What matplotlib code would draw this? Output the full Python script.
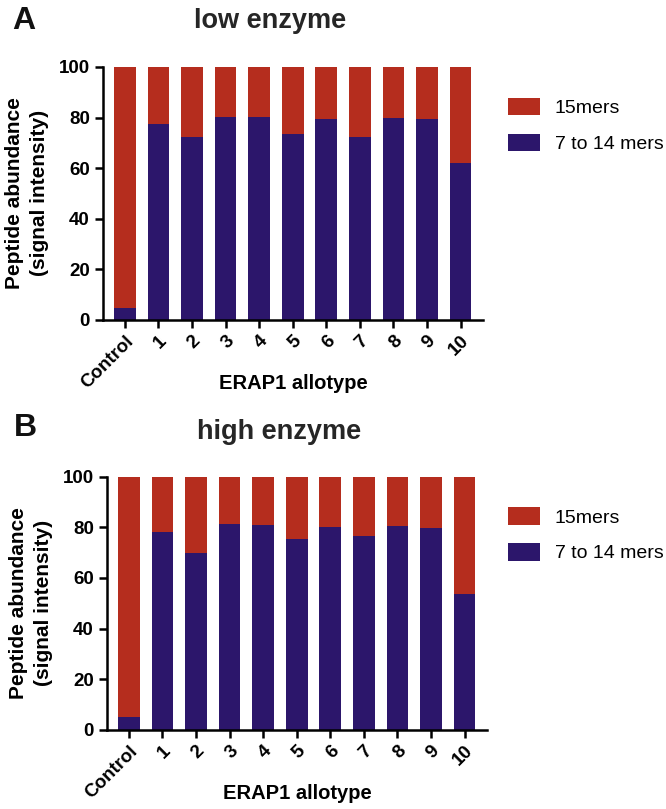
import numpy as np
import matplotlib
matplotlib.use("Agg")
import matplotlib.pyplot as plt

plt.rcParams['font.family'] = ['Liberation Sans', 'DejaVu Sans']

# values (percent of signal)
allotypes = ["Control", "1", "2", "3", "4", "5", "6", "7", "8", "9", "10"]
short_low = [4.6, 77.3, 72.3, 80.1, 80.1, 73.5, 79.3, 72.2, 79.7, 79.3, 62.1]
short_high = [5.3, 78.2, 69.7, 81.3, 80.9, 75.3, 80.0, 76.7, 80.5, 79.9, 53.8]

RED, BLUE = "#b52d1e", "#2c166b"

fig = plt.figure(figsize=(6.66, 8.09), dpi=100)

# panel boxes in figure fractions: left, bottom, width, height
boxes = [(0.1547, 0.6045, 0.5706, 0.3127), (0.1607, 0.0977, 0.5706, 0.3131)]
titles = ["low enzyme", "high enzyme"]
letters = ["A", "B"]
title_pos = [(0.405, 0.974), (0.419, 0.466)]
letter_pos = [(0.018, 0.993), (0.021, 0.49)]
legend_top = [0.879, 0.373]

for k, short in enumerate([short_low, short_high]):
    ax = fig.add_axes(boxes[k])
    x = np.arange(len(allotypes))
    short = np.array(short)
    ax.bar(x, short, width=0.65, color=BLUE, label="7 to 14 mers")
    ax.bar(x, 100 - short, bottom=short, width=0.65, color=RED, label="15mers")

    ax.set_xlim(-0.65, 10.67)
    ax.set_ylim(0, 100)
    ax.set_yticks([0, 20, 40, 60, 80, 100])
    ax.set_xticks(x)
    ax.set_xticklabels(allotypes, rotation=45, ha="right", rotation_mode="anchor")
    for lbl in ax.get_xticklabels() + ax.get_yticklabels():
        lbl.set_fontweight("bold")
        lbl.set_fontsize(13.5)
    ax.tick_params(axis="both", width=1.8, length=6, color="black")
    ax.tick_params(axis="x", pad=3)
    for s in ["top", "right"]:
        ax.spines[s].set_visible(False)
    for s in ["left", "bottom"]:
        ax.spines[s].set_linewidth(1.8)

    ax.set_xlabel("ERAP1 allotype", fontsize=14.5, fontweight="bold")
    ax.xaxis.set_label_coords(0.5, -0.25)
    ax.xaxis.label.set_va("center")
    ax.set_ylabel("Peptide abundance\n(signal intensity)", fontsize=15,
                  fontweight="bold", linespacing=1.4)
    ax.yaxis.set_label_coords(-0.143, 0.502)

    h, l = ax.get_legend_handles_labels()
    fig.legend(h[::-1], l[::-1], loc="upper left",
               bbox_to_anchor=(0.7628, legend_top[k]), frameon=False,
               fontsize=14, handlelength=1.65, handleheight=1.0,
               handletextpad=0.75, labelspacing=0.85, borderpad=0,
               borderaxespad=0)

    fig.text(title_pos[k][0], title_pos[k][1], titles[k], fontsize=19.5,
             fontweight="bold", color="#262626", ha="center", va="center")
    fig.text(letter_pos[k][0], letter_pos[k][1], letters[k], fontsize=23,
             fontweight="bold", color="#111111", ha="left", va="top")

fig.savefig("out.png", dpi=100)
